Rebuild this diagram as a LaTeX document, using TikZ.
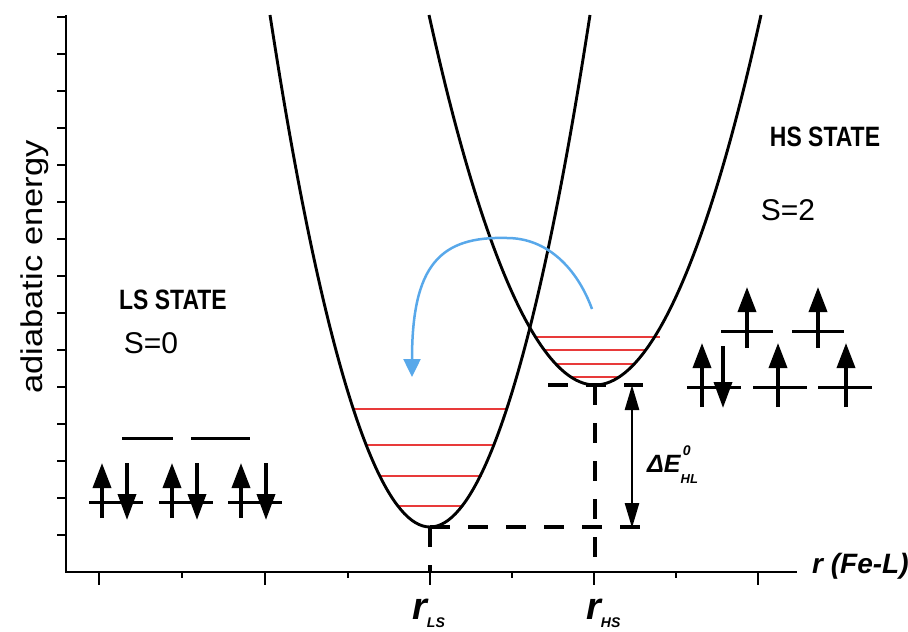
\documentclass[tikz,border=0pt]{standalone}
\usepackage{fontspec}
\setmainfont{Liberation Sans}
\usetikzlibrary{arrows.meta}
\newcommand{\pxsize}[1]{\fontsize{#1}{#1}\selectfont}
\definecolor{hopblue}{RGB}{88,168,234}
\definecolor{levelred}{RGB}{232,58,58}

\begin{document}
\begin{tikzpicture}[x=1pt,y=-1pt,
    axis/.style={line width=2.8pt},
    well/.style={line width=2.9pt},
    level/.style={levelred, line width=1.8pt},
    guide/.style={line width=3.2pt, dash pattern=on 20pt off 18pt},
    orbital/.style={line width=3pt},
    spinup/.style={line width=3.6pt, -{Triangle[length=25pt,width=18pt]}},
    spindown/.style={line width=3.6pt, -{Triangle[length=26pt,width=18pt]}},
    hop/.style={hopblue, line width=2.5pt, -{Triangle[length=18pt,width=17pt]}},
    gap/.style={line width=2.6pt, {Triangle[length=25pt,width=14pt]}-{Triangle[length=25pt,width=14pt]}}]
    \useasboundingbox (0,0) rectangle (908,632);

    % axes
    \draw[axis] (66,15) -- (66,572) -- (797,572);
    \foreach \k in {1,...,15}
      \draw[axis] (57,{572-37*\k}) -- (66,{572-37*\k});
    \foreach \x in {99,265,430,594,758}
      \draw[axis] (\x,572) -- (\x,585);
    \foreach \x in {182,348,512,676}
      \draw[axis] (\x,572) -- (\x,578);

    \coordinate (minLS) at (430,527);
    \coordinate (minHS) at (595,385);
    \coordinate (rLS) at (430,572);
    \coordinate (rHS) at (595,572);

    % vibrational levels
    \draw[level] (353,409) -- (507,409);
    \draw[level] (366,445) -- (495,445);
    \draw[level] (380,476) -- (482,476);
    \draw[level] (398,506) -- (463,506);
    \draw[level] (536,337) -- (660,337);
    \draw[level] (545,350) -- (647,350);
    \draw[level] (556,364) -- (636,364);
    \draw[level] (571,377) -- (621,377);

    % potential wells
    \draw[well] (270,15) parabola bend (minLS) (590,15);
    \draw[well] (429,15) parabola bend (minHS) (761,15);

    % guides
    \coordinate (hsleft) at (548,385);
    \coordinate (hsright) at (643,385);
    \coordinate (lsright) at (645,527);
    \draw[guide] (hsleft) -- (hsright);
    \draw[guide] (minLS) -- (lsright);
    \draw[guide] (minLS) -- (rLS);
    \draw[guide] (minHS) -- (rHS);

    \coordinate (dEtop) at (632,385);
    \coordinate (dEbot) at (632,528);
    \draw[gap] (dEtop) -- (dEbot);

    \coordinate (hopstart) at (592,309);
    \coordinate (hoptop) at (507,238);
    \coordinate (hopend) at (412,377);
    \draw[hop] (hopstart) .. controls (577,268) and (547,238) .. (hoptop)
      .. controls (440,236) and (412,265) .. (hopend);

    % LS configuration
    \draw[orbital] (122,438) -- (173,438);
    \draw[orbital] (191,438) -- (250,438);
    \foreach \c in {116,186,255} {
      \draw[orbital] ({\c-27},502) -- ({\c+27},502);
      \draw[spinup] ({\c-14},518) -- ({\c-14},463);
      \draw[spindown] ({\c+11},463) -- ({\c+11},520);
    }

    % HS configuration
    \foreach \c in {747,818} {
      \draw[orbital] ({\c-26},331) -- ({\c+26},331);
      \draw[spinup] (\c,348) -- (\c,287);
    }
    \foreach \c in {714,780,845}
      \draw[orbital] ({\c-27},387) -- ({\c+27},387);
    \draw[spinup] (702,407) -- (702,343);
    \draw[spindown] (723,346) -- (723,408);
    \draw[spinup] (778,407) -- (778,343);
    \draw[spinup] (846,407) -- (846,343);

    % labels
    \node (ylabel) at (35,267) [rotate=90] {\pxsize{30}\scalebox{1.15}[1]{adiabatic energy}};
    \node (lsstate) at (173,300) {\pxsize{28}\bfseries\scalebox{0.82}[1]{LS STATE}};
    \node (lsspin) at (151,343) {\pxsize{30}S=0};
    \node (hsstate) at (825,137) {\pxsize{28}\bfseries\scalebox{0.82}[1]{HS STATE}};
    \node (hsspin) at (788,210) {\pxsize{30}S=2};
    \node (raxis) [anchor=base west, inner sep=0pt] at (812,573) {\pxsize{28}\bfseries\itshape r (Fe-L)};
    \node (rls) [anchor=base west, inner sep=0pt] at (412,619) {\bfseries\itshape\pxsize{38}r\raisebox{-8pt}{\pxsize{14}LS}};
    \node (rhs) [anchor=base west, inner sep=0pt] at (586,619) {\bfseries\itshape\pxsize{38}r\raisebox{-8pt}{\pxsize{14}HS}};
    \node (dE) [anchor=base west, inner sep=0pt] at (647,472) {\bfseries\itshape\pxsize{25}ΔE\rlap{\raisebox{17pt}{\pxsize{14}\,0}}\raisebox{-11pt}{\pxsize{13}HL}};
\end{tikzpicture}
\end{document}
